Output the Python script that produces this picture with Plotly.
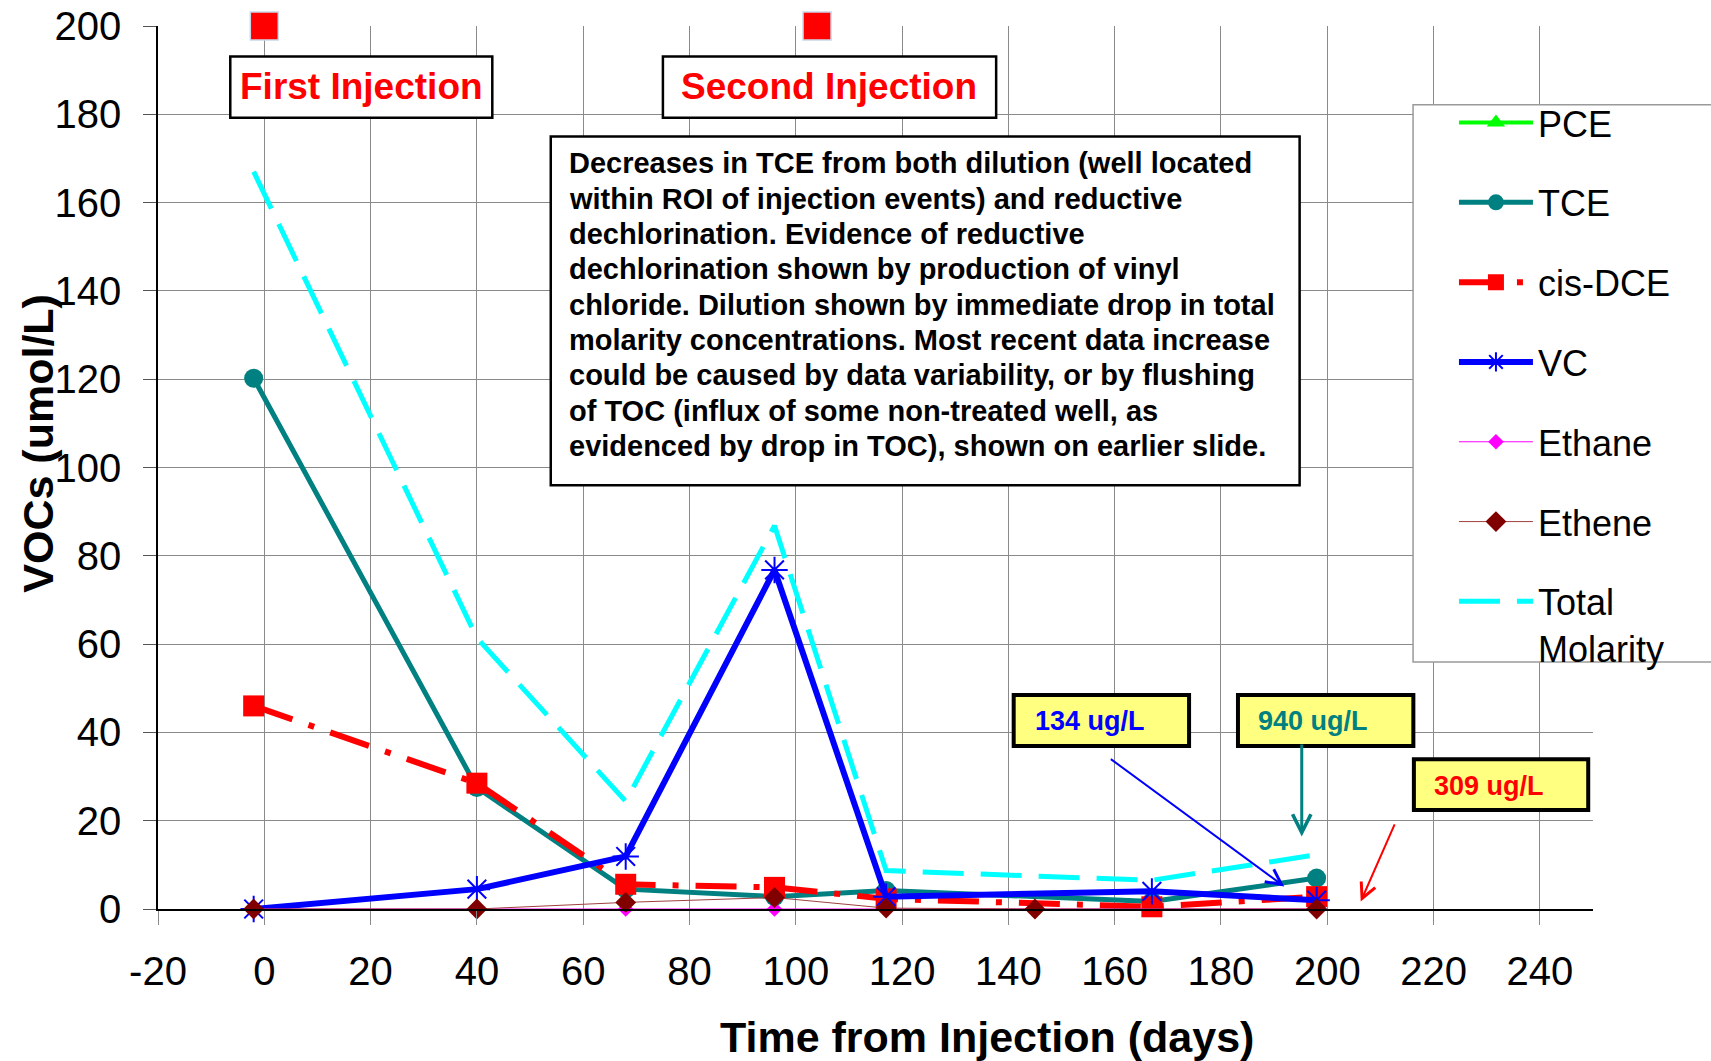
import plotly.graph_objects as go

FONT = "Arial, 'Liberation Sans', Helvetica, sans-serif"

# ---------------- data ----------------
days_voc = [-2, 40, 68, 96, 117, 167, 198]      # sampling days for chlorinated VOCs / total
days_gas = [-2, 40, 68, 96, 117, 145, 198]      # sampling days for dissolved gases

pce = [None, None, None, None, None, None, None]  # no PCE points visible
tce = [120.2, 27.5, 4.5, 2.8, 4.2, 1.7, 7.0]
cis_dce = [46.0, 28.5, 5.6, 4.9, 2.3, 0.5, 2.8]
vc = [0.0, 4.5, 11.9, 76.8, 2.8, 4.0, 2.0]
ethane = [0.0, 0.0, 0.0, 0.0, 0.0, 0.0, 0.0]
ethene = [0.0, 0.0, 1.5, 2.6, 0.2, 0.0, 0.0]
total_molarity = [167.0, 61.4, 24.4, 86.8, 8.7, 6.5, 12.3]

injection_days = [0, 104]
injection_level = [200, 200]

x_ticks = list(range(-20, 241, 20))
y_ticks = list(range(0, 201, 20))

note_lines = [
    "Decreases in TCE from both dilution (well located",
    "within ROI of injection events) and reductive",
    "dechlorination. Evidence of reductive",
    "dechlorination shown by production of vinyl",
    "chloride. Dilution shown by immediate drop in total",
    "molarity concentrations. Most recent data increase",
    "could be caused by data variability, or by flushing",
    "of TOC (influx of some non-treated well, as",
    "evidenced by drop in TOC), shown on earlier slide.",
]

# ---------------- figure ----------------
fig = go.Figure()

def add_series(name, x, y, color, width, dash, symbol, size, mline=None, linecolor=None):
    marker = dict(symbol=symbol, size=size, color=color,
                  line=mline if mline else dict(width=0))
    fig.add_trace(go.Scatter(
        x=x, y=y, name=name, mode="lines+markers",
        line=dict(color=linecolor or color, width=width, dash=dash),
        marker=marker, cliponaxis=False, legendgroup=name,
    ))

add_series("PCE", days_voc, pce, "#00FF00", 4, "solid", "triangle-up", 16)
add_series("TCE", days_voc, tce, "#008080", 5, "solid", "circle", 19)
add_series("cis-DCE", days_voc, cis_dce, "#FF0000", 6, "41px,17px,6px,17px", "square", 21)
add_series("VC", days_voc, vc, "#0000FF", 6, "solid", "asterisk-open", 22,
           mline=dict(color="#0000FF", width=2))
add_series("Ethane", days_gas, ethane, "#FF00FF", 1, "solid", "diamond", 12)
add_series("Ethene", days_gas, ethene, "#800000", 1, "solid", "diamond", 16, linecolor="#A04040")
fig.add_trace(go.Scatter(
    x=days_voc, y=total_molarity, name="Total<br>Molarity", mode="lines",
    line=dict(color="#00FFFF", width=5, dash="41px,17px"),
    cliponaxis=False, legendgroup="Total",
))
fig.add_trace(go.Scatter(
    x=injection_days, y=injection_level, mode="markers", showlegend=False,
    marker=dict(symbol="square", size=28, color="#FF0000",
                line=dict(color="#C8D8E8", width=1.5)),
    cliponaxis=False, hoverinfo="skip",
))

# ---------------- boxes ----------------
def rect(x0, x1, y0, y1, fill, lw, color="black"):
    return dict(type="rect", xref="x", yref="y", x0=x0, x1=x1, y0=y0, y1=y1,
                fillcolor=fill, line=dict(color=color, width=lw), layer="above")

shapes = [
    rect(-6.4, 42.9, 179.2, 193.1, "white", 2.5),
    rect(75.0, 137.7, 179.2, 193.1, "white", 2.5),
    rect(53.9, 194.8, 96.0, 175.0, "white", 2.5),
    rect(141.0, 174.0, 36.9, 48.45, "#FFFF80", 4),
    rect(183.2, 216.2, 36.9, 48.45, "#FFFF80", 4),
    rect(216.3, 249.1, 22.4, 33.9, "#FFFF80", 4),
    # legend frame (extends past the right edge as in the reference)
    dict(type="rect", xref="paper", yref="paper", x0=0.8746, x1=1.3, y0=0.2797, y1=0.9107,
         fillcolor="white", line=dict(color="#9A9A9A", width=1.5), layer="above"),
]

annotations = [
    dict(x=18.3, y=186.3, text="First Injection", showarrow=False,
         font=dict(family=FONT, size=37, color="#FF0000", weight="bold")),
    dict(x=106.3, y=186.3, text="Second Injection", showarrow=False,
         font=dict(family=FONT, size=37, color="#FF0000", weight="bold")),
    dict(x=144.6, y=42.5, text="134 ug/L", showarrow=False, xanchor="left",
         font=dict(family=FONT, size=27, color="#0000FF", weight="bold")),
    dict(x=186.6, y=42.5, text="940 ug/L", showarrow=False, xanchor="left",
         font=dict(family=FONT, size=27, color="#008080", weight="bold")),
    dict(x=219.8, y=27.8, text="309 ug/L", showarrow=False, xanchor="left",
         font=dict(family=FONT, size=27, color="#FF0000", weight="bold")),
    # arrows
    dict(x=191.9, y=5.1, ax=159.0, ay=34.2, axref="x", ayref="y", text="",
         showarrow=True, arrowhead=5, arrowsize=1.5, arrowwidth=2, arrowcolor="#0000FF"),
    dict(x=195.2, y=16.4, ax=195.2, ay=37.6, axref="x", ayref="y", text="",
         showarrow=True, arrowhead=5, arrowsize=1.2, arrowwidth=3, arrowcolor="#008080"),
    dict(x=206.3, y=1.7, ax=212.8, ay=19.5, axref="x", ayref="y", text="",
         showarrow=True, arrowhead=5, arrowsize=1.5, arrowwidth=2, arrowcolor="#FF0000"),
    # axis titles
    dict(xref="paper", yref="paper", x=0.5777, y=-0.1446, text="Time from Injection (days)",
         showarrow=False, xanchor="center", yanchor="middle",
         font=dict(family=FONT, size=43, color="black", weight="bold")),
    dict(xref="paper", yref="paper", x=-0.0836, y=0.527, text="VOCs (umol/L)",
         showarrow=False, xanchor="center", yanchor="middle", textangle=-90,
         font=dict(family=FONT, size=43, color="black", weight="bold")),
]

# note text, one annotation per line (line pitch 8 data units)
for i, line in enumerate(note_lines):
    annotations.append(dict(
        x=57.0, y=168.9 - 8.0 * i, text=line, showarrow=False,
        xanchor="left", yanchor="middle", align="left",
        font=dict(family=FONT, size=29, color="black", weight="bold")))

fig.update_layout(
    width=1711, height=1061,
    margin=dict(l=158, r=118, t=26, b=152, pad=0, autoexpand=False),
    paper_bgcolor="white", plot_bgcolor="white",
    font=dict(family=FONT, color="black"),
    shapes=shapes, annotations=annotations,
    legend=dict(x=0.9031, y=0.9245, xanchor="left", yanchor="top",
                bgcolor="rgba(0,0,0,0)", borderwidth=0,
                font=dict(family=FONT, size=36, color="black"),
                tracegroupgap=30, valign="top", itemwidth=74),
    xaxis=dict(range=[-20, 250], tickvals=x_ticks, ticktext=[str(v) for v in x_ticks],
               automargin=False,
               showgrid=True, gridcolor="#8A8A8A", gridwidth=1, zeroline=False,
               showline=True, linecolor="black", linewidth=1.5,
               ticks="outside", ticklen=14, tickcolor="#8A8A8A", tickwidth=1,
               ticklabelstandoff=12,
               tickfont=dict(family=FONT, size=40, color="black")),
    yaxis=dict(range=[0, 200], tickvals=y_ticks, ticktext=[str(v) for v in y_ticks],
               automargin=False,
               showgrid=True, gridcolor="#8A8A8A", gridwidth=1, zeroline=False,
               showline=True, linecolor="black", linewidth=1.5,
               ticks="outside", ticklen=13, tickcolor="#555555", tickwidth=1,
               ticklabelstandoff=14,
               tickfont=dict(family=FONT, size=40, color="black")),
)

fig.write_html("out.html")
